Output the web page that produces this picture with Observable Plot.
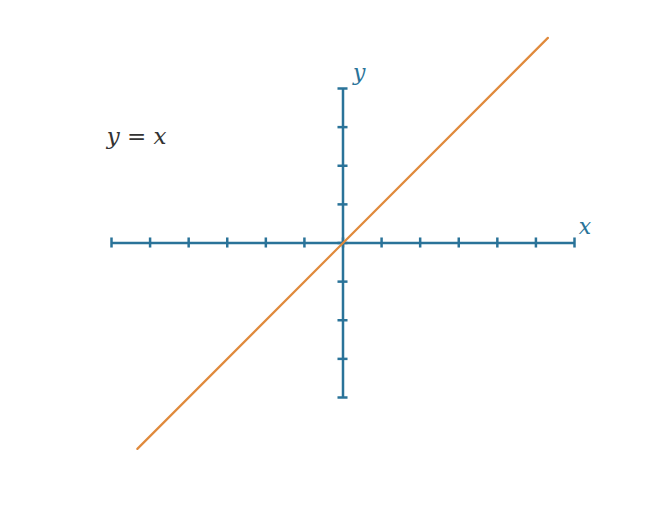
<!DOCTYPE html>
<html>
<head>
<meta charset="utf-8">
<script src="https://cdn.jsdelivr.net/npm/d3@7"></script>
<script src="https://cdn.jsdelivr.net/npm/@observablehq/plot@0.6"></script>
<style>
  html, body { margin: 0; padding: 0; background: #fff; }
  .mathlabel text { font-family: "DejaVu Serif", serif !important; font-style: italic; }
</style>
</head>
<body>
<div id="chart"></div>
<script>
const xTicks = [-6, -5, -4, -3, -2, -1, 0, 1, 2, 3, 4, 5, 6];
const yTicks = [-4, -3, -2, -1, 0, 1, 2, 3, 4];
const lineX = [-5.33, 5.31];
const lineY = lineX.map(v => v); // y = x
const axisLabels = [
  {text: "x", x: 6.27, y: 0.41},
  {text: "y", x: 0.42, y: 4.4}
];
const equation = [{text: "y = x", x: -5.35, y: 2.75}];

const axisColor = "#2a7399";
const lineColor = "#e08a3c";

const lineData = lineX.map((x, i) => ({x, y: lineY[i]}));

const chart = Plot.plot({
  width: 650,
  height: 507,
  margin: 0,
  x: {domain: [-6, 6], range: [111, 574], axis: null},
  y: {domain: [-4, 4], range: [397, 88], axis: null},
  marks: [
    Plot.ruleY([0], {x1: -6, x2: 6, stroke: axisColor, strokeWidth: 2.5}),
    Plot.ruleX([0], {y1: -4, y2: 4, stroke: axisColor, strokeWidth: 2.5}),
    Plot.ruleX(xTicks, {x: d => d, y1: -0.13, y2: 0.13, stroke: axisColor, strokeWidth: 2.5}),
    Plot.ruleY(yTicks, {y: d => d, x1: -0.13, x2: 0.13, stroke: axisColor, strokeWidth: 2.5}),
    Plot.line(lineData, {x: "x", y: "y", stroke: lineColor, strokeWidth: 2.2}),
    Plot.text(axisLabels, {x: "x", y: "y", text: "text", fill: axisColor, fontSize: 22, className: "mathlabel"}),
    Plot.text(equation, {x: "x", y: "y", text: "text", fill: "#333", fontSize: 23, className: "mathlabel"})
  ]
});
document.getElementById("chart").appendChild(chart);
</script>
</body>
</html>
